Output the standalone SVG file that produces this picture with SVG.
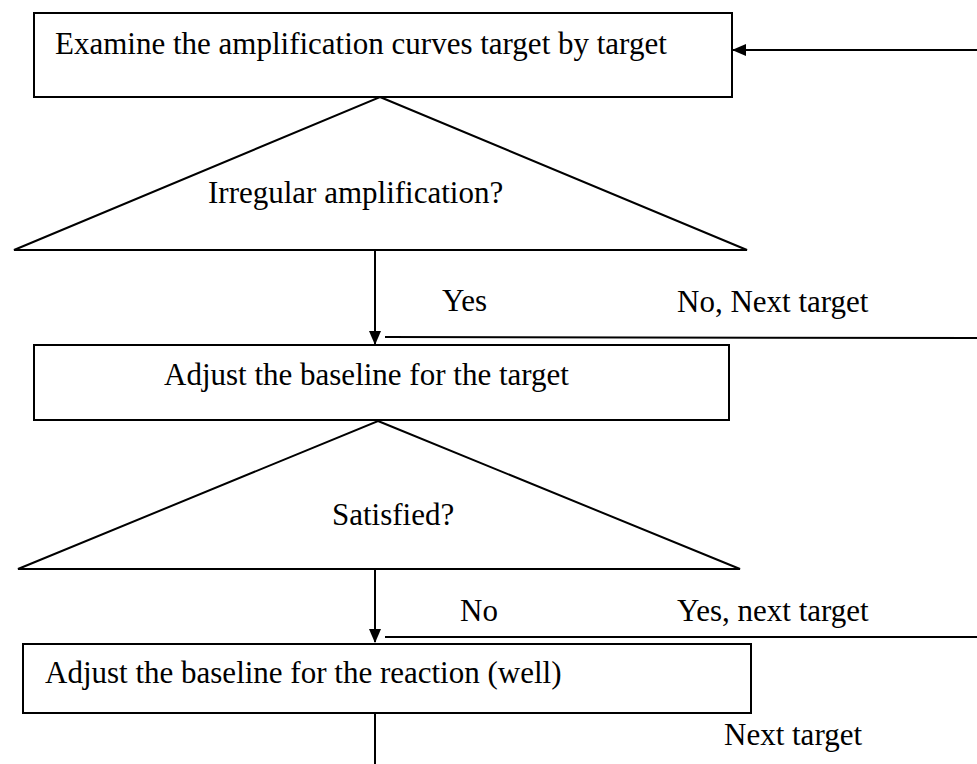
<svg xmlns="http://www.w3.org/2000/svg" width="977" height="764" viewBox="0 0 977 764">
<style>
.box{fill:#fff;stroke:#000;stroke-width:2}
.tri{fill:#fff;stroke:#000;stroke-width:2;stroke-linejoin:miter}
.ln{fill:none;stroke:#000;stroke-width:2}
text{font-family:"Liberation Serif","Times New Roman",serif;font-size:31px;fill:#000}
</style>
<defs>
<marker id="ah" markerWidth="14" markerHeight="12" refX="13" refY="6" orient="auto" markerUnits="userSpaceOnUse">
<path d="M0,0 L14,6 L0,12 Z" fill="#000"/>
</marker>
</defs>
<rect width="977" height="764" fill="#fff"/>
<g id="connectors">
<line class="ln" x1="977" y1="50" x2="733" y2="50" marker-end="url(#ah)"/>
<line class="ln" x1="375" y1="250" x2="375" y2="344" marker-end="url(#ah)"/>
<line class="ln" x1="385" y1="337" x2="977" y2="338"/>
<line class="ln" x1="375" y1="569" x2="375" y2="642" marker-end="url(#ah)"/>
<line class="ln" x1="385" y1="637" x2="977" y2="637"/>
<line class="ln" x1="375" y1="713" x2="375" y2="764"/>
</g>
<g id="n1">
<rect class="box" x="34" y="13" width="698" height="84"/>
<text x="55" y="54">Examine the amplification curves target by target</text>
</g>
<g id="d1">
<polygon class="tri" points="380,97 747,250 14,250"/>
<text x="208" y="203">Irregular amplification?</text>
</g>
<g id="n2">
<rect class="box" x="34" y="345" width="695" height="75"/>
<text x="164" y="385">Adjust the baseline for the target</text>
</g>
<g id="d2">
<polygon class="tri" points="378,421 740,569 18,569"/>
<text x="332" y="525">Satisfied?</text>
</g>
<g id="n3">
<rect class="box" x="23" y="644" width="728" height="69"/>
<text x="45" y="683">Adjust the baseline for the reaction (well)</text>
</g>
<g id="labels">
<text x="442" y="311">Yes</text>
<text x="677" y="312">No, Next target</text>
<text x="460" y="621">No</text>
<text x="677" y="621">Yes, next target</text>
<text x="724" y="745">Next target</text>
</g>
</svg>
